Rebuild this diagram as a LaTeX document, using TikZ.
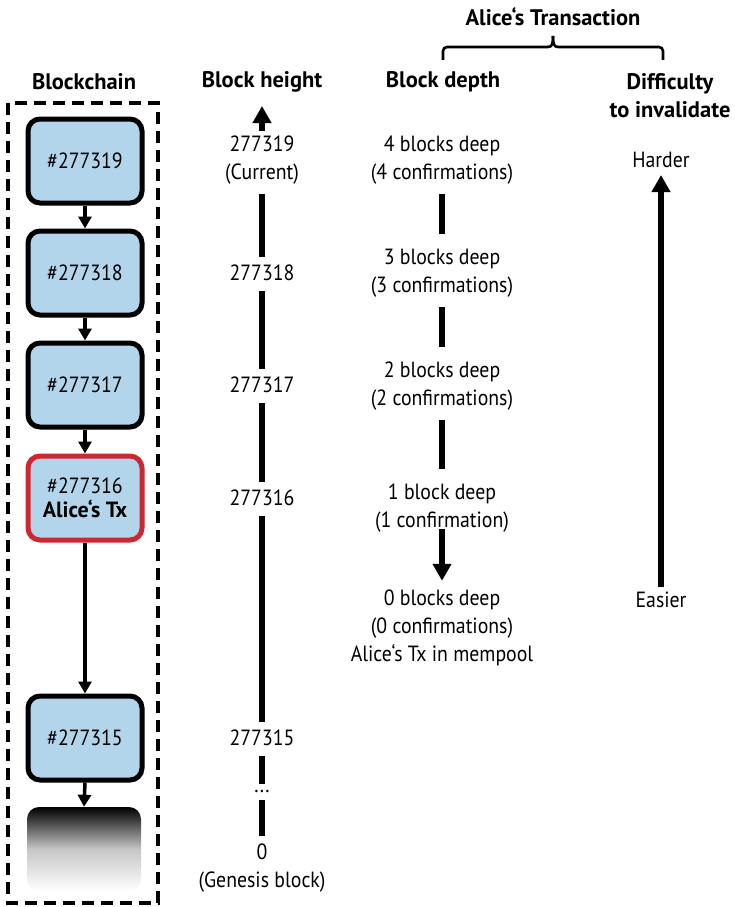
\documentclass[tikz,border=0pt]{standalone}
\usepackage{fontspec}
\setmainfont[FakeStretch=0.9]{PT Sans}
\newfontfamily\headfont{PT Sans}
\usetikzlibrary{arrows.meta,shadows}

\definecolor{blockblue}{RGB}{179,213,236}
\definecolor{txred}{RGB}{205,40,50}

\begin{document}
\begin{tikzpicture}[x=1pt,y=-1pt,
  txt/.style={font=\fontsize{22}{28}\selectfont, align=center, inner sep=3pt},
  head/.style={font=\headfont\bfseries\fontsize{22.5}{28}\selectfont, align=center, inner sep=2pt},
  block/.style={draw, line width=5pt, rounded corners=12pt, fill=blockblue,
    minimum width=114pt, minimum height=84pt, align=center,
    font=\fontsize{22}{26}\selectfont,
    drop shadow={shadow xshift=2pt, shadow yshift=-2pt, opacity=0.25}},
  link/.style={line width=3.5pt, -{Triangle[length=12pt,width=13pt]}},
  rail/.style={line width=6.5pt, shorten <=7pt, shorten >=5pt},
  bigtip/.style={line width=5.5pt, -{Triangle[length=17pt,width=18pt]}},
  frame/.style={line width=3.4pt, dash pattern=on 12pt off 7pt},
  bracket/.style={line width=2.6pt}]
\useasboundingbox (0,0) rectangle (735,907);

% --- blockchain column ---
\node[head] (chainhead) at (84,82) {Blockchain};
\draw[frame] (8,103) rectangle (158,903);

\node[block] (b319) at (85,161) {\#277319};
\node[block] (b318) at (85,273) {\#277318};
\node[block] (b317) at (85,385) {\#277317};
\node[block, draw=txred] (b316) at (85,498) {\#277316\\[-2pt]{\headfont\bfseries Alice‘s Tx}};
\node[block] (b315) at (85,738) {\#277315};
\node[rounded corners=12pt, minimum width=114pt, minimum height=84pt,
  top color=black, bottom color=white, middle color=gray!45] (b314) at (84,849) {};

\draw[link] (b319.south) -- (b318.north);
\draw[link] (b318.south) -- (b317.north);
\draw[link] (b317.south) -- (b316.north);
\draw[link] (b316.south) -- (b315.north);
\draw[link] (b315.south) -- (b314.north);

% --- block height column ---
\node[head] (hhead) at (262,82) {Block height};
\coordinate (htop) at (262,106);
\node[txt] (h319) at (262,160) {277319\\(Current)};
\node[txt] (h318) at (262,273) {277318};
\node[txt] (h317) at (262,385) {277317};
\node[txt] (h316) at (262,498) {277316};
\node[txt] (h315) at (262,738) {277315};
\node[txt, inner sep=1pt] (hdots) at (262,791) {...};
\node[txt] (h0) at (262,868) {0\\(Genesis block)};

\draw[bigtip] ([yshift=2pt]h319.north) -- (htop);
\draw[rail] (h319.south) -- (h318.north);
\draw[rail] (h318.south) -- (h317.north);
\draw[rail] (h317.south) -- (h316.north);
\draw[rail] (h316.south) -- (h315.north);
\draw[rail] (h315.south) -- (hdots.north);
\draw[rail] (hdots.south) -- (h0.north);

% --- block depth column ---
\node[head] (dhead) at (443,82) {Block depth};
\node[txt] (d4) at (442,160) {4 blocks deep\\(4 confirmations)};
\node[txt] (d3) at (442,273) {3 blocks deep\\(3 confirmations)};
\node[txt] (d2) at (442,386) {2 blocks deep\\(2 confirmations)};
\node[txt] (d1) at (442,508) {1 block deep\\(1 confirmation)};
\node[txt] (d0) at (442,628) {0 blocks deep\\(0 confirmations)\\Alice‘s Tx in mempool};

\draw[rail, shorten >=12pt] (d4.south) -- (d3.north);
\draw[rail, shorten >=12pt] (d3.south) -- (d2.north);
\draw[rail, shorten >=12pt] (d2.south) -- (d1.north);
\draw[bigtip] ([yshift=6pt]d1.south) -- ([yshift=6pt]d0.north);

% --- difficulty column ---
\node[head] (thead) at (553,17) {Alice‘s Transaction};
\node[head] (fhead) at (670,96) {Difficulty\\to invalidate};
\node[txt] (hard) at (661,160) {Harder};
\node[txt] (easy) at (661,600) {Easier};
\draw[bigtip] ([yshift=2pt]easy.north) -- ([yshift=-4pt]hard.south);

% --- bracket grouping depth and difficulty ---
\draw[bracket, rounded corners=4pt] (443,60) -- (443,47) -- (548,47);
\draw[bracket] (548,47) .. controls (552,47) and (553,44) .. (553,36);
\draw[bracket] (553,36) .. controls (553,44) and (554,47) .. (558,47);
\draw[bracket, rounded corners=4pt] (558,47) -- (663,47) -- (663,60);
\end{tikzpicture}
\end{document}
